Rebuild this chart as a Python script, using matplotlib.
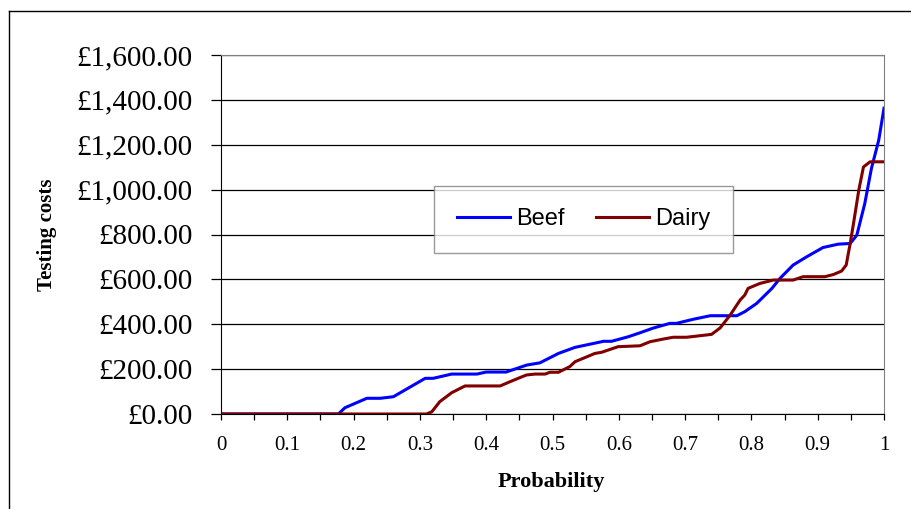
import matplotlib.pyplot as plt
from matplotlib.lines import Line2D
from matplotlib.ticker import FuncFormatter, MultipleLocator

# cumulative probability vs testing cost
beef_p = [0.0, 0.177, 0.187, 0.22, 0.24, 0.26, 0.308, 0.32, 0.348, 0.386, 0.40, 0.43,
          0.461, 0.481, 0.509, 0.534, 0.577, 0.589, 0.614, 0.632, 0.652, 0.677, 0.687,
          0.712, 0.738, 0.778, 0.79, 0.808, 0.831, 0.843, 0.863, 0.883, 0.908, 0.931,
          0.949, 0.959, 0.971, 0.981, 0.992, 1.0]
beef_cost = [0, 0, 28, 70, 70, 77, 159, 159, 178, 178, 187, 187,
             218, 228, 270, 297, 324, 324, 344, 362, 383, 404, 404,
             422, 438, 438, 456, 493, 560, 604, 664, 700, 742, 757,
             760, 797, 938, 1094, 1220, 1363]

dairy_p = [0.0, 0.31, 0.318, 0.33, 0.348, 0.368, 0.421, 0.436, 0.454, 0.461, 0.474, 0.489,
           0.496, 0.509, 0.526, 0.534, 0.564, 0.574, 0.599, 0.632, 0.647, 0.667, 0.682,
           0.702, 0.717, 0.74, 0.753, 0.768, 0.783, 0.79, 0.795, 0.813, 0.833, 0.863,
           0.878, 0.911, 0.924, 0.936, 0.943, 0.949, 0.954, 0.962, 0.969, 0.979, 1.0]
dairy_cost = [0, 0, 10, 55, 95, 125, 125, 144, 166, 174, 178, 178,
              186, 186, 211, 233, 270, 275, 300, 304, 322, 334, 342,
              342, 347, 355, 384, 441, 508, 530, 560, 582, 597, 597,
              612, 612, 622, 637, 664, 760, 849, 998, 1101, 1124, 1124]

fig = plt.figure(figsize=(9.12, 5.09), dpi=100)
ax = fig.add_axes([221 / 912, 1 - 414 / 509, 663 / 912, 359 / 509])

ax.plot(beef_p, beef_cost, color='#0000FF', lw=2.2, label='Beef')
ax.plot(dairy_p, dairy_cost, color='#800000', lw=2.2, label='Dairy')

ax.set_xlim(0, 1)
ax.set_ylim(0, 1600)
ax.yaxis.set_major_locator(MultipleLocator(200))
ax.xaxis.set_major_locator(MultipleLocator(0.1))
ax.xaxis.set_minor_locator(MultipleLocator(0.05))
ax.xaxis.set_major_formatter(FuncFormatter(lambda v, pos: f"{v:g}"))
ax.yaxis.set_major_formatter(FuncFormatter(lambda v, pos: f"£{v:,.2f}"))
ax.grid(axis='y', color='black', lw=0.9)
ax.set_axisbelow(True)

for s in ['top', 'right']:
    ax.spines[s].set_color('#808080')
for s in ['left', 'bottom']:
    ax.spines[s].set_color('black')

ax.tick_params(axis='y', direction='out', length=7.5, width=0.9, pad=13, labelsize=21)
ax.tick_params(axis='x', which='both', direction='out', length=4, width=0.9, pad=12, labelsize=15)
ax.tick_params(axis='x', which='minor', labelbottom=False)
for lab in ax.get_xticklabels() + ax.get_yticklabels():
    lab.set_family('Liberation Serif')

ax.set_xlabel('Probability', family='Liberation Serif', fontweight='bold', fontsize=16, va='center')
ax.set_ylabel('Testing costs', family='Liberation Serif', fontweight='bold', fontsize=15, va='center')
ax.xaxis.set_label_coords(0.498, -0.189)
ax.yaxis.set_label_coords(-0.262, 0.5)

leg = ax.legend(loc='center', bbox_to_anchor=(0.547, 0.542), ncol=2, fancybox=False,
                frameon=True, edgecolor='#808080', handlelength=2.25, handletextpad=0.25,
                columnspacing=1.35, borderpad=0.95, borderaxespad=0,
                prop={'family': 'Liberation Sans', 'size': 17})
leg.get_frame().set_linewidth(1.0)

# outer chart border
fig.add_artist(Line2D([9 / 912, 9 / 912], [0, 1 - 11 / 509], color='black', lw=1.0))
fig.add_artist(Line2D([9 / 912, 1], [1 - 11 / 509, 1 - 11 / 509], color='black', lw=1.0))

fig.savefig('out.png', dpi=100)
